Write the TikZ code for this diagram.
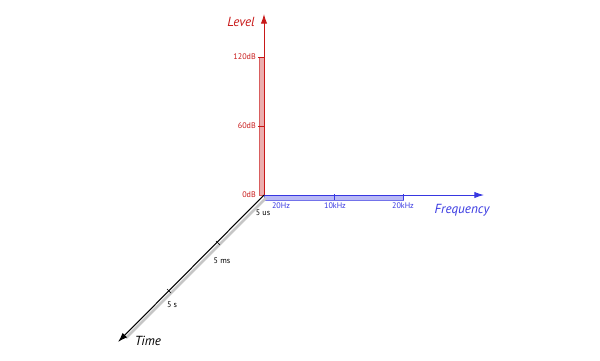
\documentclass[tikz,border=0pt]{standalone}
\usepackage{fontspec}
\setmainfont{PT Sans}
\usetikzlibrary{arrows.meta}
\definecolor{levelred}{RGB}{200,25,25}
\definecolor{freqblue}{RGB}{55,55,225}
\begin{document}
\begin{tikzpicture}[x=0.02cm,y=-0.02cm]
\tikzset{petit/.style={font=\fontsize{4.6}{5}\selectfont, inner sep=0.5pt},
axe/.style={font=\fontsize{7.5}{9}\selectfont\itshape, inner sep=0.5pt}}
\useasboundingbox (0,0) rectangle (600,360);
\coordinate (O) at (264,195);
\coordinate (L) at (264,14);
\coordinate (F) at (484,195);
\coordinate (T) at (118,342);
\fill[levelred!35, draw=levelred!70, line width=0.3pt] (259,57) rectangle (O);
\fill[freqblue!35, draw=freqblue!70, line width=0.3pt] (O) rectangle (403,200);
\draw[gray!45, line width=1.6pt] (266,198) -- (126,338);
\draw[levelred, line width=0.5pt, -{Latex[length=5.5pt, width=3.6pt]}] (O) -- (L);
\draw[freqblue, line width=0.5pt, -{Latex[length=5.5pt, width=3.6pt]}] (O) -- (F);
\draw[black, line width=0.6pt, -{Latex[length=5.5pt, width=3.6pt]}] (O) -- (T);
\draw[levelred, line width=0.3pt] (258,57) -- (264,57);
\draw[levelred, line width=0.3pt] (258,126) -- (264,126);
\draw[freqblue, line width=0.3pt] (334,194) -- (334,200);
\draw[freqblue, line width=0.3pt] (403,194) -- (403,200);
\draw[line width=0.3pt] (216,241) -- (220,245);
\draw[line width=0.3pt] (167,289) -- (171,293);
\node[petit, levelred, anchor=east] (l120) at (257,57) {120dB};
\node[petit, levelred, anchor=east] (l60) at (257,126) {60dB};
\node[petit, levelred, anchor=east] (l0) at (257,195) {0dB};
\node[petit, freqblue] (f20) at (281,206) {20Hz};
\node[petit, freqblue] (f10k) at (335,206) {10kHz};
\node[petit, freqblue] (f20k) at (403,206) {20kHz};
\node[petit] (t5us) at (263,213) {5 us};
\node[petit] (t5ms) at (222,261) {5 ms};
\node[petit] (t5s) at (172,305) {5 s};
\node[axe, levelred] (level) at (241,22) {Level};
\node[axe, freqblue] (freq) at (462,210) {Frequency};
\node[axe] (time) at (148,341) {Time};
\end{tikzpicture}
\end{document}
